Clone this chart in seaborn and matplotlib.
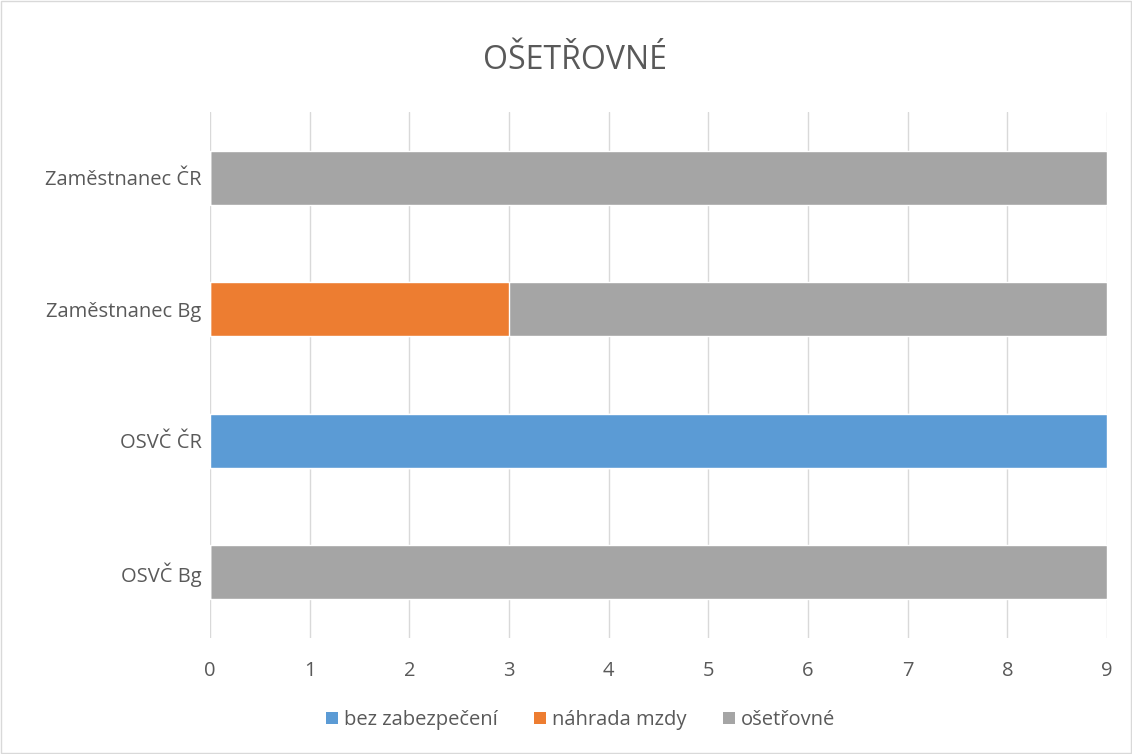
import matplotlib
matplotlib.use("Agg")
import matplotlib.pyplot as plt
from matplotlib.patches import Patch, Rectangle
import pandas as pd
import seaborn as sns

# data, top to bottom as shown
categories = ["Zaměstnanec ČR", "Zaměstnanec Bg", "OSVČ ČR", "OSVČ Bg"]
bez_zabezpeceni = [0, 0, 9, 0]
nahrada_mzdy = [0, 3, 0, 0]
osetrovne = [9, 6, 0, 9]

series_names = ["bez zabezpečení", "náhrada mzdy", "ošetřovné"]
colors = ["#5B9BD5", "#ED7D31", "#A5A5A5"]
text_color = "#595959"
grid_color = "#D9D9D9"

df = pd.DataFrame({
    "category": categories,
    "bez": bez_zabezpeceni,
    "nahrada": nahrada_mzdy,
    "oset": osetrovne,
})
# cumulative totals so the bars can be layered back to front
df["cum1"] = df["bez"]
df["cum2"] = df["cum1"] + df["nahrada"]
df["cum3"] = df["cum2"] + df["oset"]

sns.set_style("white")
plt.rcParams["font.family"] = ["Open Sans", "DejaVu Sans"]

fig = plt.figure(figsize=(11.32, 7.54), dpi=100)
ax = fig.add_axes([0.1855, 0.154, 0.7925, 0.6975])

for col, color in zip(["cum3", "cum2", "cum1"], colors[::-1]):
    sns.barplot(data=df, x=col, y="category", order=categories, color=color,
                orient="h", width=0.41, saturation=1, ax=ax, zorder=3)

ax.set_xlim(0, 9)
ax.set_ylim(3.5, -0.5)
ax.set_xticks(range(0, 10))
ax.grid(axis="x", color=grid_color, linewidth=1, zorder=0)
ax.set_axisbelow(True)
for side in ["top", "right", "left", "bottom"]:
    ax.spines[side].set_visible(False)
ax.tick_params(axis="both", length=0, colors=text_color, labelsize=14.5)
ax.tick_params(axis="x", pad=17)
ax.tick_params(axis="y", pad=6)
ax.set_xlabel("")
ax.set_ylabel("")

fig.text(0.508, 0.92, "OŠETŘOVNÉ", ha="center", va="center", fontsize=23,
         color=text_color)

handles = [Patch(facecolor=c, edgecolor="none") for c in colors]
fig.legend(handles, series_names, loc="center", bbox_to_anchor=(0.513, 0.045),
           ncol=3, frameon=False, fontsize=14.5, labelcolor=text_color,
           handlelength=0.6, handleheight=0.6, handletextpad=0.3, columnspacing=1.8)

fig.patches.append(Rectangle((0.001, 0.001), 0.998, 0.998, transform=fig.transFigure,
                             fill=False, edgecolor=grid_color, linewidth=1))

fig.savefig("out.png", dpi=100)
